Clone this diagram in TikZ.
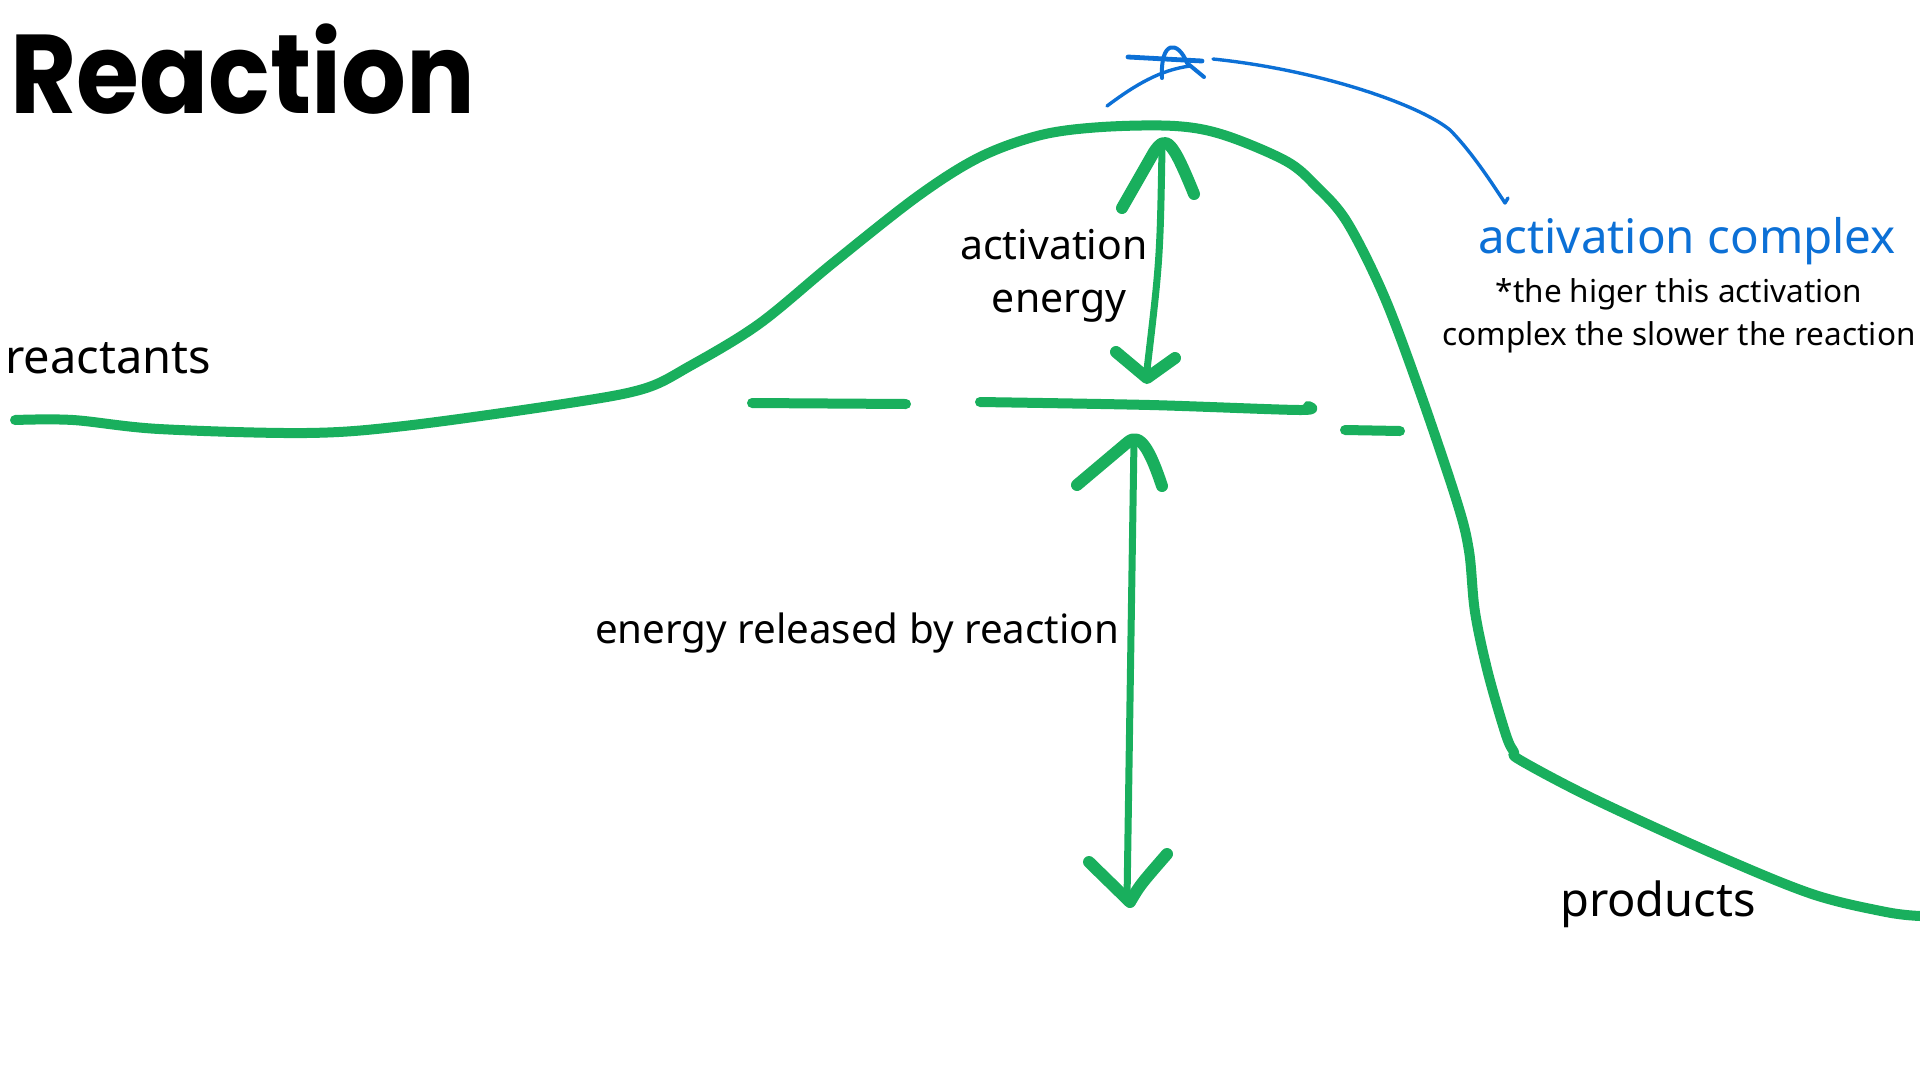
\documentclass[tikz,border=0pt]{standalone}
\usepackage{fontspec}
\setmainfont{Noto Sans}
\newfontfamily\titlefont{Poppins}
\definecolor{grn}{RGB}{25,175,93}
\definecolor{blu}{RGB}{12,112,214}
\begin{document}
\begin{tikzpicture}[x=1pt,y=-1pt,
  curve/.style={draw=grn,line width=10pt,line cap=round,line join=round},
  shaft/.style={draw=grn,line width=7pt,line cap=round},
  head/.style={draw=grn,line width=12pt,line cap=round,line join=round},
  bluepen/.style={draw=blu,line width=3.4pt,line cap=round,line join=round},
  lbl/.style={font=\fontsize{41}{48}\selectfont,text=black,inner sep=0pt},
  big/.style={font=\fontsize{47}{54}\selectfont,text=black,inner sep=0pt}]
\useasboundingbox (0,0) rectangle (1920,1080);
% title
\node[anchor=base west,inner sep=0pt,xscale=0.91,font=\titlefont\bfseries\fontsize{112}{124}\selectfont] (title) at (10,113) {Reaction};
% main curve
\draw[curve] plot[smooth,tension=0.55] coordinates {(15,420) (73,420) (159,429) (306,433) (404,426) (563,404) (643,389) (690,366) (759,324) (833,263) (918,196) (980,157) (1041,135) (1102,127) (1175,126) (1224,135) (1286,161) (1316,186) (1347,222) (1384,296) (1420,392) (1457,502) (1469,551) (1475,612) (1488,673) (1506,735) (1514,752) (1520,760) (1592,798) (1714,854) (1812,894) (1886,912) (1920,916)};
% dashes
\draw[curve] (752,403) -- (906,404);
\draw[curve] plot[smooth,tension=0.5] coordinates {(980,402) (1150,405) (1300,410) (1308,406)};
\draw[curve] (1345,430) -- (1400,431);
% activation energy arrow
\coordinate (aeTop) at (1162,148);
\coordinate (aeBot) at (1146,378);
\draw[shaft] (aeTop) .. controls (1160,260) .. (aeBot);
\draw[head] (1122,208) -- (1154,152) .. controls (1166,134) and (1172,140) .. (1194,194);
\draw[head] (1116,352) -- (1147,378) -- (1175,358);
% energy released arrow
\coordinate (erTop) at (1134,440);
\coordinate (erBot) at (1127,900);
\draw[shaft] (erTop) .. controls (1130,700) .. (erBot);
\draw[head] (1077,485) -- (1128,442) .. controls (1140,432) and (1150,450) .. (1162,486);
\draw[head] (1089,862) -- (1130,902) .. controls (1140,885) .. (1167,854);
% labels
\node[lbl] (act) at (1054,245) {activation};
\node[lbl] (ene) at (1059,306) {energy};
\node[big,anchor=west] (reac) at (5,358) {reactants};
\node[lbl,font=\fontsize{40.3}{48}\selectfont] (rel) at (857,633) {energy released by reaction};
\node[big] (prod) at (1658,904) {products};
% blue annotation
\node[inner sep=0pt,text=blu,font=\fontsize{47.5}{54}\selectfont] (cplx) at (1687,241) {activation complex};
\node[inner sep=0pt,text=black,font=\fontsize{31.5}{43}\selectfont,align=center] (note) at (1679,316) {*the higer this activation\\complex the slower the reaction};
\draw[bluepen,line width=4.8pt] (1128,57) -- (1202,61);
\draw[bluepen,line width=4pt] (1162,78) .. controls (1160,40) and (1178,40) .. (1187,63) -- (1204,77);
\draw[bluepen] (1107,106) .. controls (1135,85) and (1160,70) .. (1190,66);
\coordinate (bstart) at (1213,59);
\coordinate (bend) at (1505,203);
\draw[bluepen] (bstart) .. controls (1320,70) and (1420,105) .. (1450,130) .. controls (1470,150) and (1490,180) .. (bend) -- (1508,198);
\end{tikzpicture}
\end{document}
